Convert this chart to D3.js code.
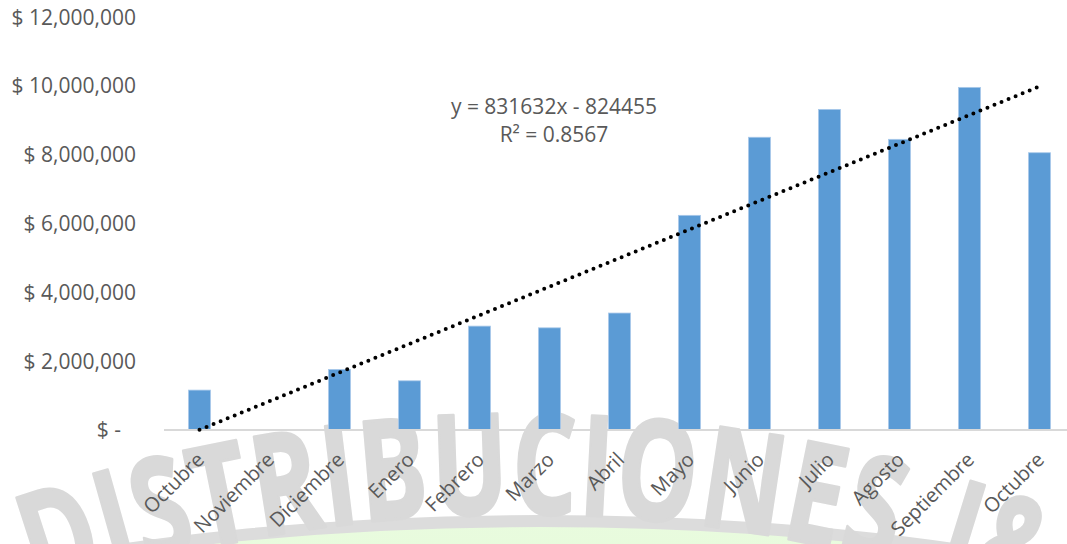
<!DOCTYPE html>
<html>
<head>
<meta charset="utf-8">
<script src="https://cdn.jsdelivr.net/npm/d3@7"></script>
<style>
  body { margin: 0; background: #fff; }
  text { font-family: "Open Sans", sans-serif; }
</style>
</head>
<body>
<div id="chart"></div>
<script>
// data
const months = ["Octubre", "Noviembre", "Diciembre", "Enero", "Febrero", "Marzo",
  "Abril", "Mayo", "Junio", "Julio", "Agosto", "Septiembre", "Octubre "];
const sales = [1160000, 0, 1760000, 1430000, 3020000, 2970000,
  3400000, 6240000, 8510000, 9320000, 8450000, 9960000, 8060000];
const yTicks = [0, 2000000, 4000000, 6000000, 8000000, 10000000, 12000000];
const trend = { slope: 831632, intercept: -824455 };
const trendLabel = ["y = 831632x - 824455", "R² = 0.8567"];
const watermark = ["DISTRIBUCIONES", "J&"];

const width = 1067, height = 544;

const svg = d3.select("#chart").append("svg")
    .attr("width", width)
    .attr("height", height);

svg.append("rect").attr("width", width).attr("height", height).attr("fill", "#fff");

// background watermark (logo-ish)
const defs = svg.append("defs");
const grad = defs.append("radialGradient").attr("id", "glow")
    .attr("cx", "50%").attr("cy", "40%").attr("r", "60%");
grad.append("stop").attr("offset", "0%").attr("stop-color", "#e2fdd3");
grad.append("stop").attr("offset", "70%").attr("stop-color", "#e9fbdf");
grad.append("stop").attr("offset", "100%").attr("stop-color", "#f6fdf1");

const wmG = svg.append("g");
wmG.append("ellipse")
    .attr("cx", 540).attr("cy", 726).attr("rx", 820).attr("ry", 205)
    .attr("fill", "url(#glow)")
    .attr("stroke", "#dcdcdc").attr("stroke-width", 12);

const R = 1450, cx = 520, cy = 514 + R;
const glyphScale = 0.72;
const letters = wmG.append("g")
    .attr("fill", "#d9d9d9")
    .attr("stroke", "#d9d9d9")
    .attr("stroke-width", 3)
    .attr("stroke-linejoin", "round")
    .style("font", "bold 140px 'Liberation Sans'");

function measure(ch) {
    const t = letters.append("text").text(ch);
    const w = t.node().getComputedTextLength();
    t.remove();
    return w * glyphScale;
}

function placeWord(word, s0, len) {
    const raw = word.split("").map(measure);
    const k = len ? len / d3.sum(raw) : 1;
    let s = s0;
    word.split("").forEach((ch, i) => {
        const w = raw[i] * k;
        const a = (s + w / 2) / R;
        s += w;
        letters.append("text")
            .attr("text-anchor", "middle")
            .attr("transform", "translate(" + (cx + R * Math.sin(a)) + "," + (cy - R * Math.cos(a)) + ")" +
                " rotate(" + (a * 180 / Math.PI) + ") scale(" + glyphScale + ",1)")
            .text(ch);
    });
    return s;
}

const end1 = placeWord(watermark[0], -492, 868);
placeWord(watermark[1], end1 + 42, null);

// scales
const x = d3.scaleBand()
    .domain(months)
    .range([164.5, 1074.5])
    .paddingInner(0.686)
    .paddingOuter(0.343);

const y = d3.scaleLinear()
    .domain([0, 12000000])
    .range([430, 17.2]);

// y labels
const fmt = d3.format(",");
svg.append("g").selectAll("text")
    .data(yTicks)
    .enter().append("text")
    .attr("x", d => d === 0 ? 121 : 136)
    .attr("y", d => y(d))
    .attr("dy", "0.35em")
    .attr("text-anchor", "end")
    .attr("fill", "#595959")
    .style("font-size", "21px")
    .text(d => d === 0 ? "$ -" : "$ " + fmt(d));

// bars
svg.append("g").selectAll("rect")
    .data(sales)
    .enter().append("rect")
    .attr("x", (d, i) => x(months[i]))
    .attr("width", x.bandwidth())
    .attr("y", d => y(d))
    .attr("height", d => y(0) - y(d))
    .attr("fill", "#5b9bd5")
    .attr("stroke", "#a9c9ea")
    .attr("stroke-width", 0.8);

// x axis line
svg.append("line")
    .attr("x1", 164).attr("x2", width)
    .attr("y1", y(0)).attr("y2", y(0))
    .attr("stroke", "#d9d9d9")
    .attr("stroke-width", 2);

// x labels
svg.append("g").selectAll("text")
    .data(months)
    .enter().append("text")
    .attr("transform", d => "translate(" + (x(d) + x.bandwidth() / 2 + 6) + ",461) rotate(-45)")
    .attr("text-anchor", "end")
    .attr("fill", "#595959")
    .style("font-size", "20px")
    .text(d => d.trim());

// linear trendline
const cx1 = x(months[0]) + x.bandwidth() / 2;
const cx2 = x(months[months.length - 1]) + x.bandwidth() / 2;
svg.append("line")
    .attr("x1", cx1).attr("y1", y(trend.slope * 1 + trend.intercept))
    .attr("x2", cx2).attr("y2", y(trend.slope * months.length + trend.intercept))
    .attr("stroke", "#000")
    .attr("stroke-width", 4)
    .attr("stroke-linecap", "round")
    .attr("stroke-dasharray", "0 7.6");

// equation
svg.append("g").selectAll("text")
    .data(trendLabel)
    .enter().append("text")
    .attr("x", 554)
    .attr("y", (d, i) => 114 + i * 28)
    .attr("text-anchor", "middle")
    .attr("fill", "#595959")
    .style("font-size", "21px")
    .text(d => d);
</script>
</body>
</html>
